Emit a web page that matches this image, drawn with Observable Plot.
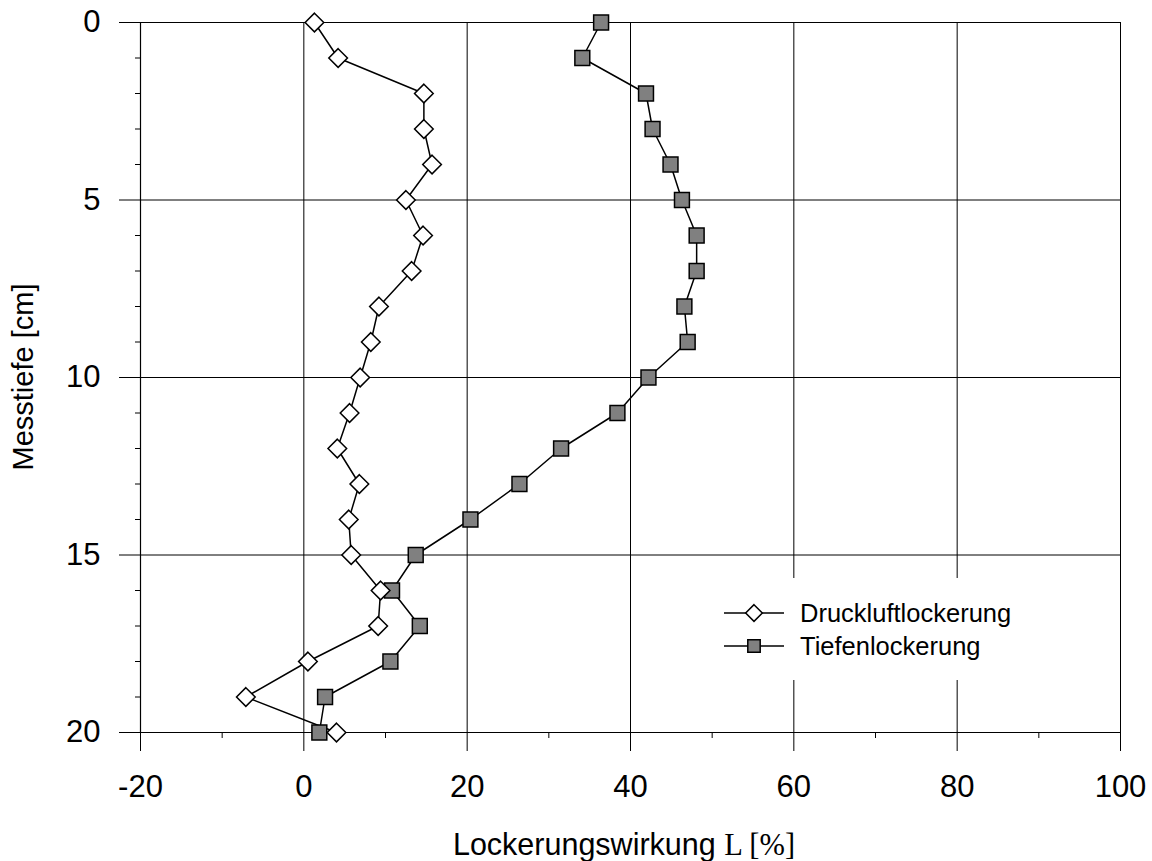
<!DOCTYPE html>
<html><head><meta charset="utf-8">
<script src="https://cdn.jsdelivr.net/npm/d3@7"></script>
<script src="https://cdn.jsdelivr.net/npm/@observablehq/plot@0.6"></script>
<style>body{margin:0;background:#fff} svg{display:block}</style>
</head><body><div id="chart"></div>
<script>
const depth = [0,1,2,3,4,5,6,7,8,9,10,11,12,13,14,15,16,17,18,19,20];
const druckluft = [1.3,4.2,14.7,14.7,15.7,12.5,14.6,13.2,9.2,8.2,6.9,5.6,4.1,6.8,5.5,5.8,9.4,9.1,0.5,-7.1,4.0];
const tiefen = [36.4,34.1,41.9,42.7,44.9,46.3,48.1,48.1,46.6,47.0,42.2,38.4,31.5,26.4,20.4,13.7,10.8,14.2,10.6,2.6,1.9];
const seriesNames = ["Druckluftlockerung","Tiefenlockerung"];
const xTicks = [-20,0,20,40,60,80,100];
const xMinorTicks = [-10,10,30,50,70,90];
const yTicks = [0,5,10,15,20];
const yMinorTicks = [1,2,3,4,6,7,8,9,11,12,13,14,16,17,18,19];
const xTitle = ["Lockerungswirkung ", "L [%]"];
const yTitle = "Messtiefe [cm]";

const dataD = depth.map((d,i)=>({depth:d, value:druckluft[i]}));
const dataT = depth.map((d,i)=>({depth:d, value:tiefen[i]}));

const FONT = "Liberation Sans, Arial, sans-serif";
const fmt = d => String(d);
const plot = Plot.plot({
  width: 1152, height: 861,
  marginLeft: 140, marginRight: 32, marginTop: 22, marginBottom: 129,
  style: {fontFamily: FONT, background: "#fff", color: "#000"},
  x: {domain: [-20,100]},
  y: {domain: [0,20], reverse: true},
  marks: [
    Plot.ruleX(xTicks.slice(1), {y1: 0, y2: 20, stroke: "#000", strokeWidth: 1}),
    Plot.ruleY(yTicks.slice(0,-1), {x1: -20, x2: 100, stroke: "#000", strokeWidth: 1}),
    Plot.ruleX([-20], {y1: 0, y2: 20, stroke: "#000", strokeWidth: 1.2}),
    Plot.ruleY([20], {x1: -20, x2: 100, stroke: "#000", strokeWidth: 1.2}),
    Plot.axisX({ticks: xTicks, tickSize: 19, tickPadding: 23, fontSize: 31, tickFormat: fmt, label: null, stroke: "#000", strokeWidth: 1}),
    Plot.axisX({ticks: xMinorTicks, tickSize: 6, tickFormat: () => "", label: null, strokeWidth: 1}),
    Plot.axisY({ticks: yTicks, tickSize: 21, tickPadding: 19, fontSize: 31, tickFormat: fmt, label: null, strokeWidth: 1}),
    Plot.axisY({ticks: yMinorTicks, tickSize: 5, tickFormat: () => "", label: null, strokeWidth: 1}),
    Plot.line(dataD, {x: "value", y: "depth", stroke: "#000", strokeWidth: 1.5}),
    Plot.line(dataT, {x: "value", y: "depth", stroke: "#000", strokeWidth: 1.5}),
    Plot.dot(dataT, {x: "value", y: "depth", symbol: "square", r: 8.4, fill: "#808080", stroke: "#000", strokeWidth: 1.5}),
    Plot.dot(dataD, {x: "value", y: "depth", symbol: "diamond2", r: 8.4, fill: "#fff", stroke: "#000", strokeWidth: 1.5})
  ]
});
document.getElementById("chart").appendChild(plot);

const svg = d3.select(plot);
// legend
const lg = svg.append("g").attr("text-anchor", "start");
lg.append("rect").attr("x", 706).attr("y", 578).attr("width", 324).attr("height", 102).attr("fill", "#fff");
const rows = [{y: 613, sym: d3.symbolDiamond2, fill: "#fff"}, {y: 646, sym: d3.symbolSquare, fill: "#808080"}];
rows.forEach((r, i) => {
  lg.append("line").attr("x1", 724).attr("x2", 784).attr("y1", r.y).attr("y2", r.y).attr("stroke", "#000").attr("stroke-width", 1.5);
  lg.append("path").attr("d", d3.symbol(r.sym, Math.PI * (i === 0 ? 7.5 : 7) ** 2)())
    .attr("transform", `translate(754,${r.y})`).attr("fill", r.fill).attr("stroke", "#000").attr("stroke-width", 1.5);
  lg.append("text").attr("x", 800).attr("y", r.y).attr("dy", "0.35em").attr("font-size", 25.5)
    .attr("text-anchor", "start").attr("font-family", FONT).attr("fill", "#000").text(seriesNames[i]);
});
// axis titles
const t = svg.append("text").attr("x", 624).attr("y", 855).attr("text-anchor", "middle").attr("font-size", 30.5).attr("fill", "#000");
t.append("tspan").attr("font-family", FONT).text(xTitle[0]);
t.append("tspan").attr("font-family", "Liberation Serif, Times New Roman, serif").text(xTitle[1]);
svg.append("text").attr("transform", "translate(33,377) rotate(-90)").attr("text-anchor", "middle")
  .attr("font-size", 29).attr("font-family", FONT).attr("fill", "#000").text(yTitle);
</script>
</body></html>
